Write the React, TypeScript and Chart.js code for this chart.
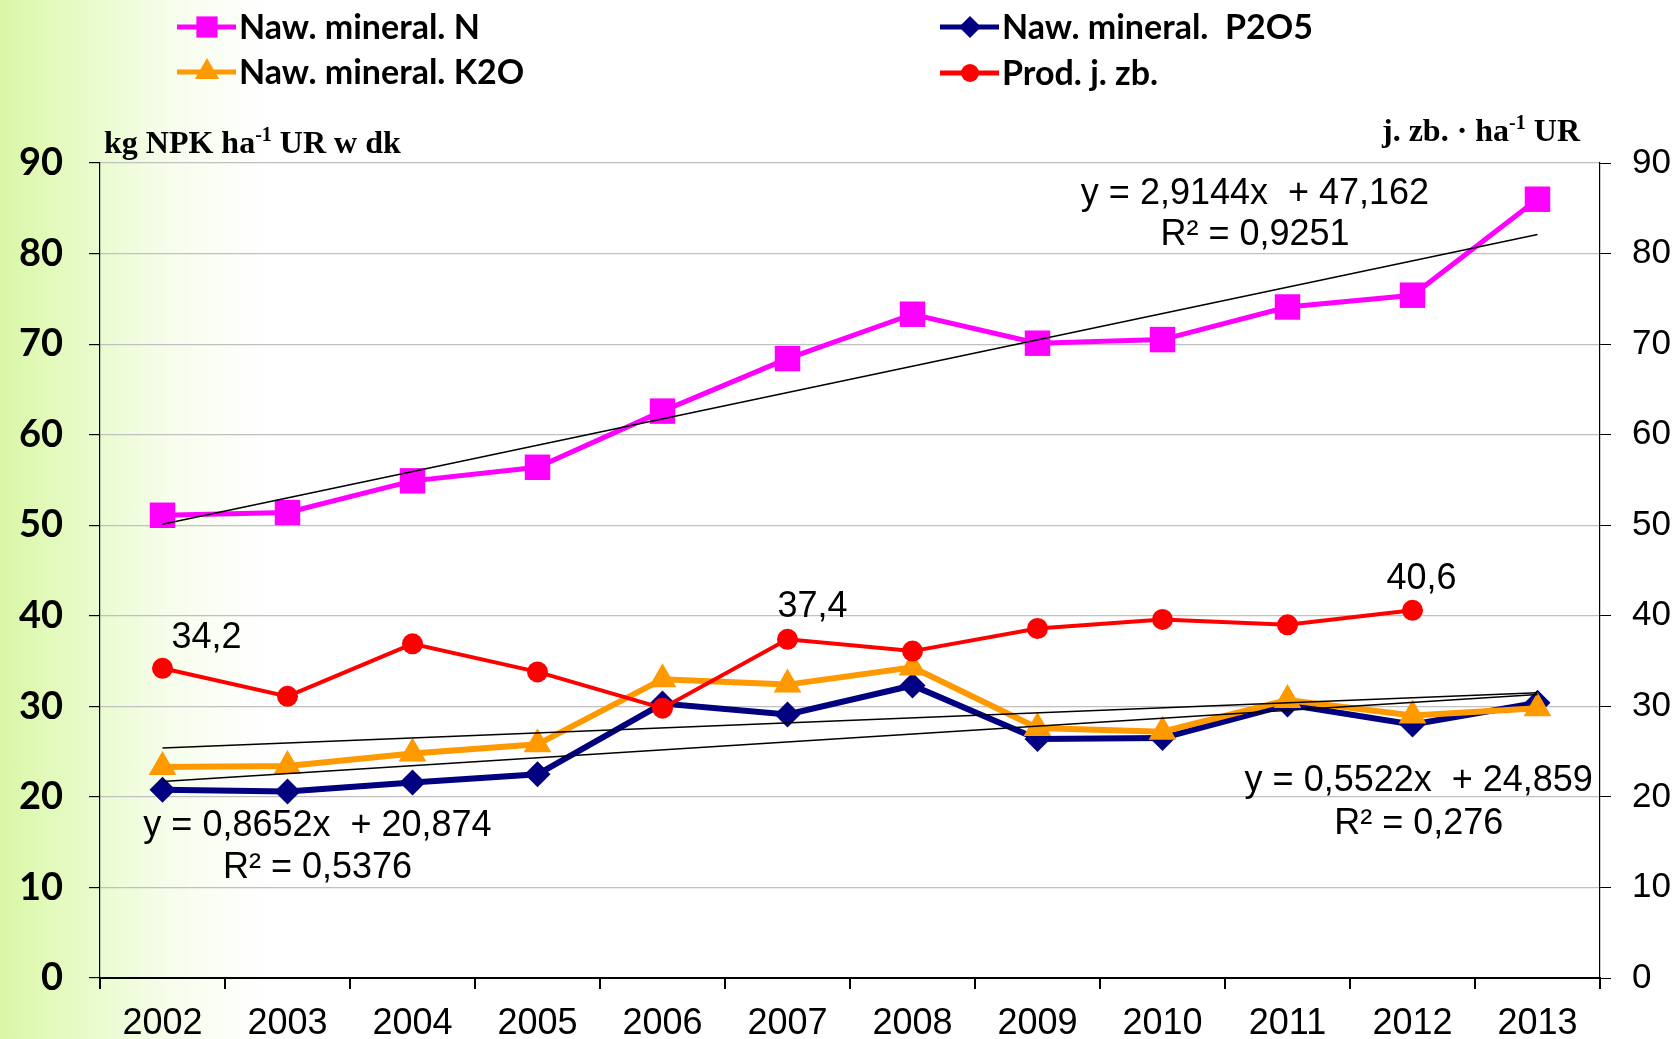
import React, { useEffect, useRef } from 'react';
import { Chart, registerables } from 'chart.js';

Chart.register(...registerables);

// ---------- data ----------
const years = ['2002', '2003', '2004', '2005', '2006', '2007', '2008', '2009', '2010', '2011', '2012', '2013'];
const nitrogen = [51.1, 51.4, 54.9, 56.4, 62.6, 68.4, 73.3, 70.1, 70.5, 74.1, 75.4, 86.0];
const phosphorus = [20.8, 20.6, 21.6, 22.5, 30.3, 29.1, 32.3, 26.4, 26.5, 30.2, 28.0, 30.4];
const potassium = [23.3, 23.4, 24.8, 25.8, 33.0, 32.4, 34.3, 27.6, 27.2, 30.7, 29.0, 29.8];
const livestock = [34.2, 31.1, 36.9, 33.8, 29.8, 37.4, 36.1, 38.6, 39.6, 39.0, 40.6, null];
// linear trend lines (start and end values, straight line between)
const nTrend = [50.1, null, null, null, null, null, null, null, null, null, null, 82.1];
const pTrend = [21.7, null, null, null, null, null, null, null, null, null, null, 31.3];
const kTrend = [25.4, null, null, null, null, null, null, null, null, null, null, 31.5];
const labelledIdx = [0, 5, 10];
const seriesNames = ['Naw. mineral. N', 'Naw. mineral.  P2O5', 'Naw. mineral. K2O', 'Prod. j. zb.'];
const eqN = ['y = 2,9144x  + 47,162', 'R\u00B2 = 0,9251'];
const eqP = ['y = 0,8652x  + 20,874', 'R\u00B2 = 0,5376'];
const eqK = ['y = 0,5522x  + 24,859', 'R\u00B2 = 0,276'];
const axisMin = 0;
const axisMax = 90;
const axisStep = 10;

const MAGENTA = '#FF00FF';
const NAVY = '#000080';
const ORANGE = '#FF9900';
const RED = '#FF0000';

const fmt = (v: number) => v.toFixed(1).replace('.', ',');

function drawMarker(ctx: CanvasRenderingContext2D, style: string, cx: number, cy: number, r: number, color: string) {
  ctx.fillStyle = color;
  ctx.beginPath();
  if (style === 'rect') {
    const s = r * Math.SQRT1_2;
    ctx.rect(cx - s, cy - s, 2 * s, 2 * s);
  } else if (style === 'rectRot') {
    ctx.moveTo(cx - r, cy);
    ctx.lineTo(cx, cy - r);
    ctx.lineTo(cx + r, cy);
    ctx.lineTo(cx, cy + r);
    ctx.closePath();
  } else if (style === 'triangle') {
    ctx.moveTo(cx, cy - r);
    ctx.lineTo(cx + r * 0.866, cy + r / 2);
    ctx.lineTo(cx - r * 0.866, cy + r / 2);
    ctx.closePath();
  } else {
    ctx.arc(cx, cy, r, 0, Math.PI * 2);
  }
  ctx.fill();
}

function drawTitle(ctx: CanvasRenderingContext2D, before: string, sup: string, after: string, x: number, baseline: number, align: 'left' | 'right') {
  const main = 'bold 32px "Liberation Serif", "Times New Roman", serif';
  const small = 'bold 20px "Liberation Serif", "Times New Roman", serif';
  ctx.font = main;
  const w1 = ctx.measureText(before).width;
  const w3 = ctx.measureText(after).width;
  ctx.font = small;
  const w2 = ctx.measureText(sup).width;
  const sx = align === 'left' ? x : x - (w1 + w2 + w3);
  ctx.textAlign = 'left';
  ctx.textBaseline = 'alphabetic';
  ctx.fillStyle = '#000';
  ctx.font = main;
  ctx.fillText(before, sx, baseline);
  ctx.font = small;
  ctx.fillText(sup, sx + w1, baseline - 12);
  ctx.font = main;
  ctx.fillText(after, sx + w1 + w2, baseline);
}

const overlayPlugin = {
  id: 'overlay',
  afterDraw(chart: any) {
    const ctx: CanvasRenderingContext2D = chart.ctx;
    const xs = chart.scales.x;
    const ys = chart.scales.y;
    const y1 = chart.scales.y1;
    ctx.save();

    // legend
    const legend = [
      { name: seriesNames[0], color: MAGENTA, style: 'rect', r: 15, lx: 177, ly: 27 },
      { name: seriesNames[1], color: NAVY, style: 'rectRot', r: 11, lx: 940, ly: 27 },
      { name: seriesNames[2], color: ORANGE, style: 'triangle', r: 14, lx: 177, ly: 72 },
      { name: seriesNames[3], color: RED, style: 'circle', r: 9, lx: 940, ly: 73 },
    ];
    legend.forEach((it) => {
      ctx.strokeStyle = it.color;
      ctx.lineWidth = 5;
      ctx.beginPath();
      ctx.moveTo(it.lx, it.ly);
      ctx.lineTo(it.lx + 59, it.ly);
      ctx.stroke();
      drawMarker(ctx, it.style, it.lx + 30, it.ly, it.r, it.color);
      ctx.fillStyle = '#000';
      ctx.font = 'bold 34px Lato, "Noto Sans", sans-serif';
      ctx.textAlign = 'left';
      ctx.textBaseline = 'middle';
      ctx.fillText(it.name, it.lx + 62, it.ly + 1);
    });

    // axis titles
    drawTitle(ctx, 'kg NPK ha', '-1', ' UR w dk', 104, 153, 'left');
    drawTitle(ctx, 'j. zb. \u00B7 ha', '-1', ' UR', 1580, 141, 'right');

    // data labels on selected points
    ctx.font = '36px "Liberation Sans", Arial, sans-serif';
    ctx.textAlign = 'center';
    ctx.textBaseline = 'middle';
    ctx.fillStyle = '#000';
    const offs = [[44, -30], [25, -32], [9, -31]];
    labelledIdx.forEach((idx, k) => {
      const v = livestock[idx] as number;
      const px = xs.getPixelForValue(idx) + offs[k][0];
      const py = y1.getPixelForValue(v) + offs[k][1];
      ctx.fillText(fmt(v), px, py);
    });

    // trend equations
    const eqs = [
      { t: eqN, cx: xs.getPixelForValue(8.74), y: [ys.getPixelForValue(86.6), ys.getPixelForValue(82.0)] },
      { t: eqP, cx: xs.getPixelForValue(1.24), y: [ys.getPixelForValue(16.8), ys.getPixelForValue(12.1)] },
      { t: eqK, cx: xs.getPixelForValue(10.05), y: [ys.getPixelForValue(21.8), ys.getPixelForValue(17.0)] },
    ];
    eqs.forEach((e) => {
      ctx.fillText(e.t[0], e.cx, e.y[0]);
      ctx.fillText(e.t[1], e.cx, e.y[1]);
    });

    ctx.restore();
  },
};

export default function App() {
  const ref = useRef<HTMLCanvasElement | null>(null);

  useEffect(() => {
    const canvas = ref.current;
    if (!canvas) return;
    const trendStyle = {
      borderColor: '#000',
      borderWidth: 1.6,
      pointRadius: 0,
      spanGaps: true,
      fill: false,
      order: 0,
      yAxisID: 'y',
    };
    const chart = new Chart(canvas, {
      type: 'line',
      data: {
        labels: years,
        datasets: [
          { label: 'trendN', data: nTrend, ...trendStyle },
          { label: 'trendP', data: pTrend, ...trendStyle },
          { label: 'trendK', data: kTrend, ...trendStyle },
          {
            label: seriesNames[3], data: livestock, yAxisID: 'y1', order: 1,
            borderColor: RED, backgroundColor: RED, borderWidth: 4,
            pointStyle: 'circle', pointRadius: 10.5, pointBorderWidth: 0, pointBackgroundColor: RED,
          },
          {
            label: seriesNames[0], data: nitrogen, yAxisID: 'y', order: 2,
            borderColor: MAGENTA, backgroundColor: MAGENTA, borderWidth: 5,
            pointStyle: 'rect', pointRadius: 18, pointBorderWidth: 0, pointBackgroundColor: MAGENTA,
          },
          {
            label: seriesNames[2], data: potassium, yAxisID: 'y', order: 3,
            borderColor: ORANGE, backgroundColor: ORANGE, borderWidth: 6,
            pointStyle: 'triangle', pointRadius: 16, pointBorderWidth: 0, pointBackgroundColor: ORANGE,
          },
          {
            label: seriesNames[1], data: phosphorus, yAxisID: 'y', order: 4,
            borderColor: NAVY, backgroundColor: NAVY, borderWidth: 6,
            pointStyle: 'rectRot', pointRadius: 13, pointBorderWidth: 0, pointBackgroundColor: NAVY,
          },
        ],
      },
      options: {
        responsive: false,
        animation: false,
        events: [],
        layout: { padding: { top: 163, left: 0, right: 0, bottom: 0 } },
        elements: { line: { tension: 0 } },
        plugins: {
          legend: { display: false },
          tooltip: { enabled: false },
          title: { display: false },
        },
        scales: {
          x: {
            type: 'category',
            offset: true,
            grid: {
              offset: true,
              drawOnChartArea: false,
              drawTicks: true,
              tickLength: 11,
              color: '#000',
              lineWidth: 2,
            },
            border: { color: '#000', width: 2 },
            ticks: {
              color: '#000',
              padding: 13,
              maxRotation: 0,
              autoSkip: false,
              font: { family: '"Liberation Sans", Arial, sans-serif', size: 36 },
            },
            afterFit: (s: any) => { s.height = 61; },
          },
          y: {
            position: 'left',
            min: axisMin,
            max: axisMax,
            grid: { color: '#c0c0c0', lineWidth: 1.2, tickColor: '#000', tickLength: 11, drawTicks: true },
            border: { color: '#000', width: 1.2 },
            ticks: {
              stepSize: axisStep,
              color: '#000',
              padding: 26,
              font: { family: 'Lato, "Noto Sans", sans-serif', size: 38, weight: 'bold' },
            },
            afterFit: (s: any) => { s.width = 100; },
          },
          y1: {
            position: 'right',
            min: axisMin,
            max: axisMax,
            grid: { drawOnChartArea: false, tickColor: '#000', tickLength: 11, drawTicks: true, color: '#000' },
            border: { color: '#000', width: 1.2 },
            ticks: {
              stepSize: axisStep,
              color: '#000',
              padding: 21,
              font: { family: '"Liberation Sans", Arial, sans-serif', size: 35 },
            },
            afterFit: (s: any) => { s.width = 79; },
          },
        },
      },
      plugins: [overlayPlugin],
    } as any);
    return () => chart.destroy();
  }, []);

  return (
    <div
      style={{
        position: 'fixed',
        left: 0,
        top: 0,
        width: 1679,
        height: 1039,
        background: 'linear-gradient(to right, #d9f7a6 0%, #e8fbc9 5%, #f6fdeb 10%, #ffffff 16%)',
      }}
    >
      <canvas ref={ref} width={1679} height={1039} style={{ display: 'block', width: 1679, height: 1039 }} />
    </div>
  );
}
